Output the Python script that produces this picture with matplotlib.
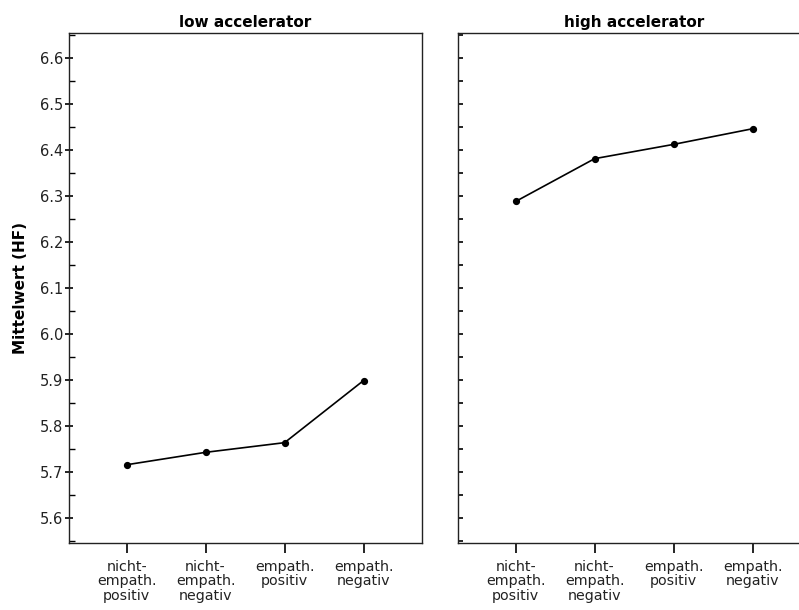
import matplotlib
matplotlib.use("Agg")
import matplotlib.pyplot as plt
from matplotlib.ticker import MultipleLocator

plt.rcParams["font.family"] = ["DejaVu Sans"]

# Mean HF per condition, split by accelerator group
CATEGORIES = ["nicht-\nempath.\npositiv", "nicht-\nempath.\nnegativ",
              "empath.\npositiv", "empath.\nnegativ"]
LOW_ACC = [5.716, 5.743, 5.764, 5.899]
HIGH_ACC = [6.288, 6.381, 6.412, 6.446]
PANELS = [("low accelerator", LOW_ACC), ("high accelerator", HIGH_ACC)]

W, H = 799, 610
fig = plt.figure(figsize=(W / 100, H / 100), dpi=100)

ax_w = 353 / W
ax_b = (H - 543) / H
ax_h = 510 / H
lefts = [69 / W, 458 / W]

for i, ((title, vals), left) in enumerate(zip(PANELS, lefts)):
    ax = fig.add_axes([left, ax_b, ax_w, ax_h])
    x = list(range(len(CATEGORIES)))
    ax.plot(x, vals, color="black", lw=1.2, marker="o", ms=4.2,
            markerfacecolor="black", markeredgecolor="black", zorder=3)

    ax.set_xlim(-0.73, 3.74)
    ax.set_ylim(5.546, 6.654)
    ax.set_xticks(x)
    ax.set_xticklabels(CATEGORIES, fontsize=10.3, color="#222222",
                       linespacing=1.05, va="top")
    ax.tick_params(axis="x", direction="out", length=7.2, width=1.2, pad=5)

    ax.yaxis.set_major_locator(MultipleLocator(0.1))
    ax.yaxis.set_minor_locator(MultipleLocator(0.05))
    if i == 0:
        ax.yaxis.set_major_formatter(plt.FormatStrFormatter("%.1f"))
        ax.tick_params(axis="y", which="major", direction="inout",
                       length=6, width=1.2, labelsize=10.5,
                       labelcolor="#222222", pad=1)
        ax.tick_params(axis="y", which="minor", direction="in",
                       length=4, width=1.0)
        ax.set_ylabel("Mittelwert (HF)", fontsize=11, fontweight="bold",
                      labelpad=9)
    else:
        ax.tick_params(axis="y", which="both", direction="in",
                       length=3.5, width=1.2, labelleft=False)
        ax.spines["right"].set_visible(False)

    ax.set_title(title, fontsize=11, fontweight="bold", pad=4)
    for sp in ax.spines.values():
        sp.set_linewidth(1.0)
        sp.set_color("#222222")

fig.savefig("out.png", dpi=100)
